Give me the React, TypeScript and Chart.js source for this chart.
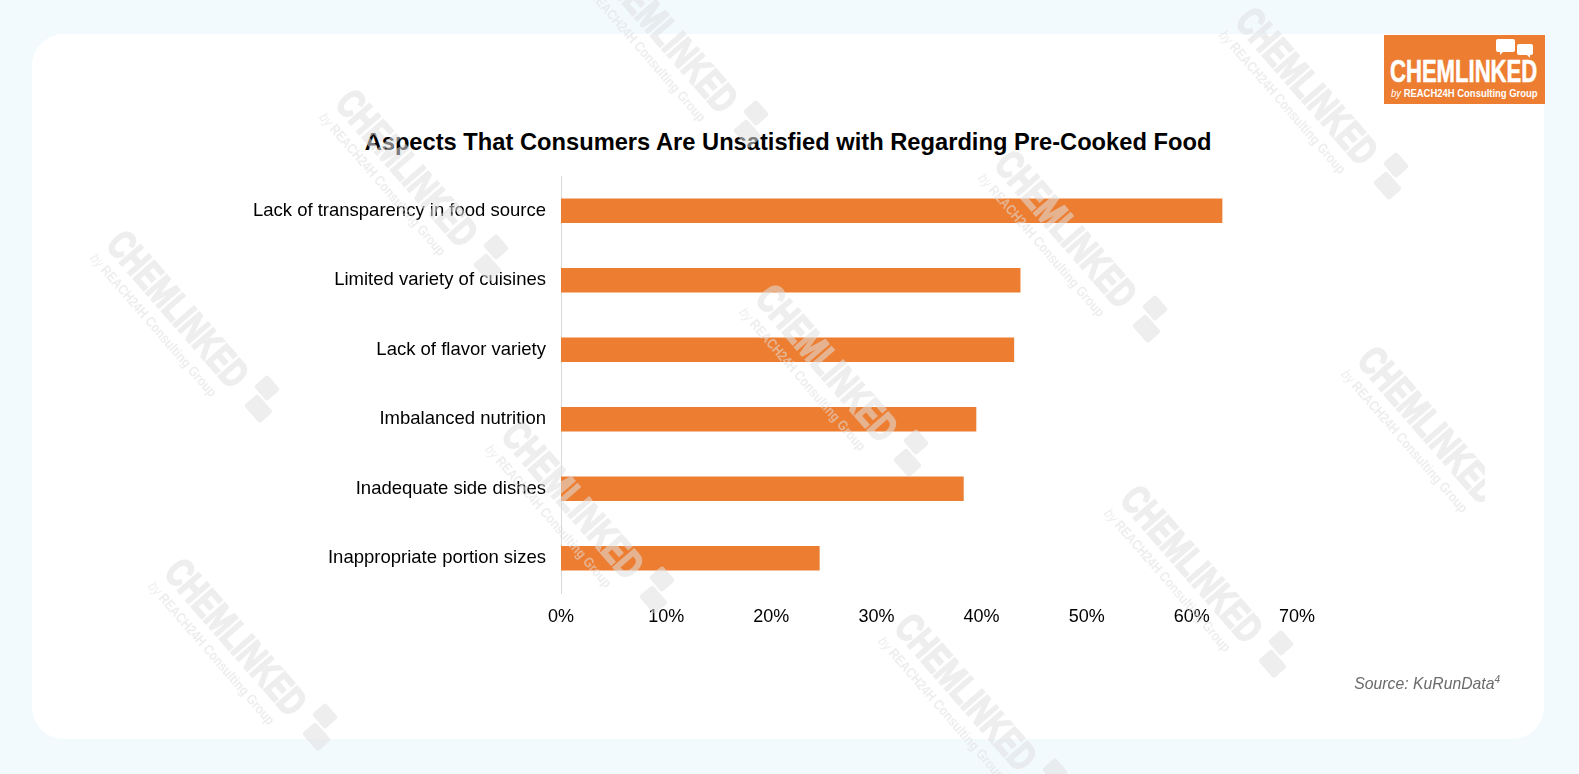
import React, { useEffect, useRef } from "react";
import { Chart, registerables } from "chart.js";

Chart.register(...registerables);

const categories = [
  "Lack of transparency in food source",
  "Limited variety of cuisines",
  "Lack of flavor variety",
  "Imbalanced nutrition",
  "Inadequate side dishes",
  "Inappropriate portion sizes",
];
const shares = [62.9, 43.7, 43.1, 39.5, 38.3, 24.6];
const tickValues = [0, 10, 20, 30, 40, 50, 60, 70];
const titleText = "Aspects That Consumers Are Unsatisfied with Regarding Pre-Cooked Food";
const sourceText = "Source: KuRunData";
const watermarkSpots = [
  [682, 66], [1322, 118], [422, 200], [1081, 261], [193, 341], [842, 395],
  [1444, 457], [588, 532], [1207, 596], [251, 669], [981, 724],
];

const FONT = "'Liberation Sans', Arial, Helvetica, sans-serif";
const ORANGE = "#ED7D31";

function Watermark({ x, y }: { x: number; y: number }) {
  const c = "rgb(224,224,224)";
  return (
    <div
      style={{
        position: "absolute",
        left: x,
        top: y,
        transform: "translate(-50%,-50%) rotate(49deg)",
        width: 260,
        height: 60,
        pointerEvents: "none",
        opacity: 0.55,
      }}
    >
      <div
        style={{
          position: "absolute",
          left: 0,
          top: 0,
          fontFamily: FONT,
          fontWeight: 700,
          fontSize: 40,
          lineHeight: "40px",
          color: c,
          WebkitTextStroke: `2px ${c}`,
          transform: "scaleX(0.72)",
          transformOrigin: "0 0",
          whiteSpace: "nowrap",
        }}
      >
        CHEMLINKED
      </div>
      <div style={{ position: "absolute", left: 204, top: -4, width: 20, height: 18, background: c, borderRadius: 3 }} />
      <div style={{ position: "absolute", left: 212, top: 16, width: 24, height: 18, background: c, borderRadius: 3 }} />
      <div
        style={{
          position: "absolute",
          left: 0,
          top: 41,
          fontFamily: FONT,
          fontWeight: 700,
          fontSize: 14,
          color: c,
          whiteSpace: "nowrap",
          transform: "scaleX(0.85)",
          transformOrigin: "0 0",
        }}
      >
        <span style={{ fontStyle: "italic", fontWeight: 400 }}>by</span> REACH24H Consulting Group
      </div>
    </div>
  );
}

export default function App() {
  const canvasRef = useRef<HTMLCanvasElement | null>(null);

  useEffect(() => {
    if (!canvasRef.current) return;
    const chart = new Chart(canvasRef.current, {
      type: "bar",
      data: {
        labels: categories,
        datasets: [
          {
            data: shares,
            backgroundColor: ORANGE,
            borderWidth: 0,
            categoryPercentage: 1,
            barPercentage: 0.35,
          },
        ],
      },
      options: {
        indexAxis: "y",
        responsive: false,
        animation: false,
        layout: { padding: { left: 201, right: 282, top: 176, bottom: 141 } },
        plugins: {
          legend: { display: false },
          tooltip: { enabled: false },
          title: { display: false },
        },
        scales: {
          x: {
            min: 0,
            max: 70,
            afterFit: (s: any) => {
              s.height = 40;
            },
            afterBuildTicks: (s: any) => {
              s.ticks = tickValues.map((v) => ({ value: v }));
            },
            grid: { display: false, drawTicks: false },
            border: { display: false },
            ticks: {
              padding: 13,
              color: "#000",
              font: { family: FONT, size: 18 },
              callback: (v: any) => v + "%",
            },
          },
          y: {
            afterFit: (s: any) => {
              s.width = 360;
            },
            grid: { display: false, drawTicks: false },
            border: { display: true, color: "#d9d9d9", width: 1 },
            ticks: {
              padding: 15,
              color: "#000",
              font: { family: FONT, size: 18.5 },
            },
          },
        },
      },
    });
    return () => chart.destroy();
  }, []);

  return (
    <div
      style={{
        position: "absolute",
        left: 0,
        top: 0,
        width: 1579,
        height: 774,
        background: "#f3fafe",
        overflow: "hidden",
        fontFamily: FONT,
      }}
    >
      <div
        style={{
          position: "absolute",
          left: 32,
          top: 34,
          width: 1512,
          height: 705,
          background: "#fff",
          borderRadius: 32,
        }}
      />
      <div
        style={{
          position: "absolute",
          left: 0,
          top: 129,
          width: 1576,
          textAlign: "center",
          fontSize: 23.7,
          fontWeight: 700,
          color: "#000",
          lineHeight: "26px",
          whiteSpace: "nowrap",
        }}
      >
        {titleText}
      </div>
      <canvas
        ref={canvasRef}
        width={1579}
        height={774}
        style={{ position: "absolute", left: 0, top: 0, width: 1579, height: 774 }}
      />
      <div
        style={{
          position: "absolute",
          right: 1579 - 1500,
          top: 674,
          fontSize: 15.75,
          fontStyle: "italic",
          color: "#6b6b6b",
          whiteSpace: "nowrap",
        }}
      >
        {sourceText}
        <sup style={{ fontSize: 10 }}>4</sup>
      </div>
      <div
        style={{
          position: "absolute",
          left: 1384,
          top: 35,
          width: 161,
          height: 69,
          background: ORANGE,
          color: "#fff",
        }}
      >
        <div style={{ position: "absolute", left: 112, top: 4, width: 19, height: 13, background: "#fff", borderRadius: 2 }} />
        <div style={{ position: "absolute", left: 116, top: 16, width: 0, height: 0, borderLeft: "4px solid #fff", borderBottom: "4px solid transparent" }} />
        <div style={{ position: "absolute", left: 133, top: 9, width: 16, height: 11, background: "#fff", borderRadius: 2 }} />
        <div style={{ position: "absolute", left: 142, top: 19, width: 0, height: 0, borderRight: "4px solid #fff", borderBottom: "4px solid transparent" }} />
        <div
          style={{
            position: "absolute",
            left: 6,
            top: 20,
            fontSize: 32,
            fontWeight: 700,
            lineHeight: "32px",
            WebkitTextStroke: "0.6px #fff",
            transform: "scaleX(0.69)",
            transformOrigin: "0 0",
            whiteSpace: "nowrap",
          }}
        >
          CHEMLINKED
        </div>
        <div
          style={{
            position: "absolute",
            left: 7,
            top: 52,
            fontSize: 11,
            fontWeight: 700,
            lineHeight: "12px",
            transform: "scaleX(0.86)",
            transformOrigin: "0 0",
            whiteSpace: "nowrap",
          }}
        >
          <span style={{ fontStyle: "italic", fontWeight: 400 }}>by</span> REACH24H Consulting Group
        </div>
      </div>
      <div
        style={{
          position: "absolute",
          left: 0,
          top: 0,
          width: 1485,
          height: 774,
          overflow: "hidden",
          pointerEvents: "none",
        }}
      >
        {watermarkSpots.map(([x, y], i) => (
          <Watermark key={i} x={x} y={y} />
        ))}
      </div>
    </div>
  );
}
